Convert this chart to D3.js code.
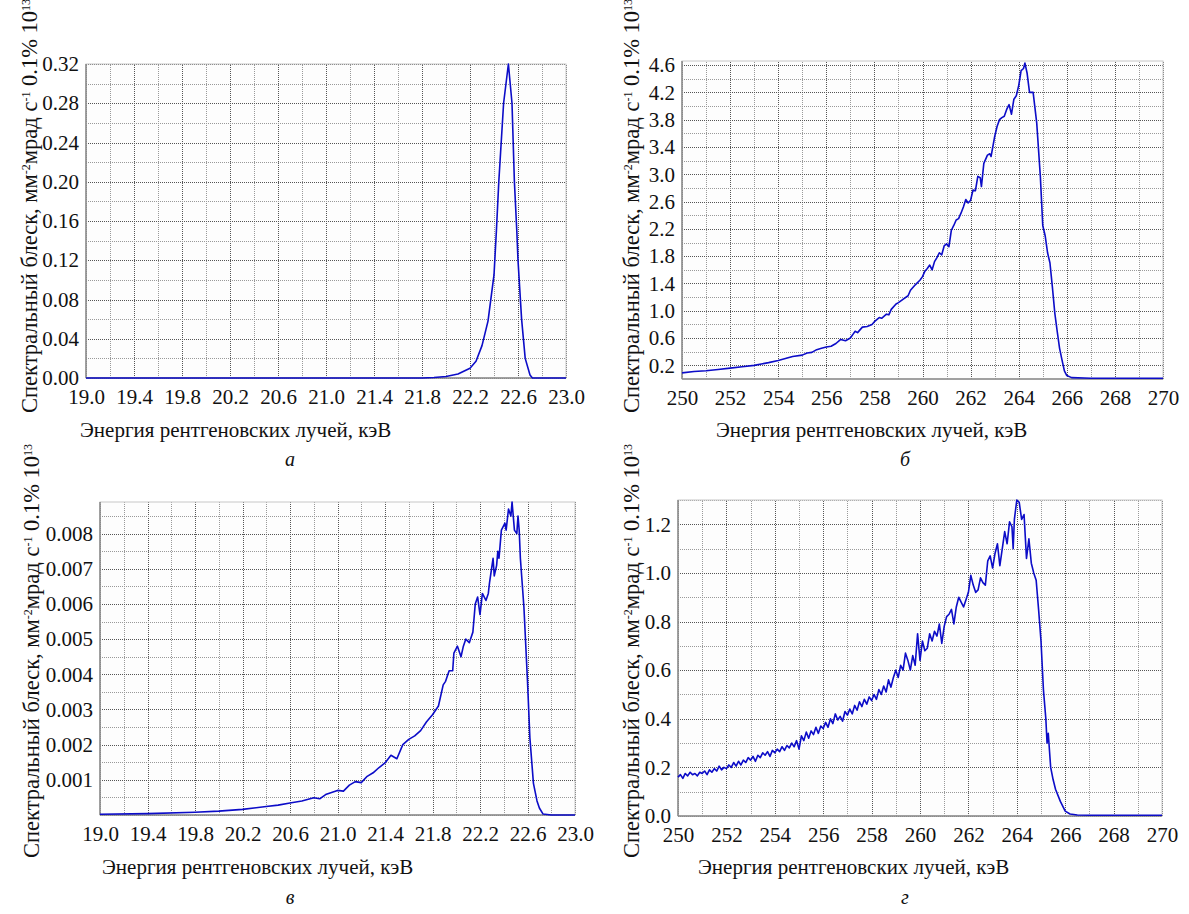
<!DOCTYPE html>
<html>
<head>
<meta charset="utf-8">
<script src="https://cdn.jsdelivr.net/npm/d3@7"></script>
<style>
  body { margin: 0; background: #fff; }
  svg text { font-family: "Liberation Serif", "Times New Roman", "DejaVu Serif", serif; fill: #111; }
  .grid line { shape-rendering: crispEdges; }
</style>
</head>
<body>
<svg width="1189" height="914"></svg>
<script>
// panel а : 22.5 keV peak, smooth
const energyA = [19.0, 21.8, 21.9, 22.0, 22.1, 22.2, 22.25, 22.3, 22.35, 22.4, 22.42, 22.44, 22.48, 22.52,
  22.55, 22.57, 22.59, 22.6, 22.63, 22.66, 22.7, 22.72, 23.0]
const brightA = [0, 0, 0.0005, 0.0015, 0.004, 0.01, 0.017, 0.033, 0.058, 0.105, 0.15, 0.20, 0.28, 0.32,
  0.28, 0.20, 0.15, 0.12, 0.06, 0.02, 0.003, 0, 0]

// panel б : 264 keV
const energyB = [250.0, 250.5, 251.0, 251.5, 252.0, 252.5, 253.0, 253.3, 253.6, 254.0, 254.3, 254.6, 255.0,
  255.2, 255.4, 255.6, 255.8, 256.0, 256.2, 256.4, 256.6, 256.8, 257.0, 257.1, 257.2, 257.3, 257.5, 257.7,
  257.9, 258.0, 258.2, 258.3, 258.5, 258.6, 258.7, 258.9, 259.0, 259.2, 259.4, 259.5, 259.7, 259.9, 260.0,
  260.1, 260.2, 260.3, 260.4, 260.5, 260.6, 260.7, 260.8, 260.9, 261.0, 261.1, 261.2, 261.3, 261.4, 261.5,
  261.6, 261.7, 261.8, 261.9, 262.0, 262.1, 262.2, 262.3, 262.4, 262.45, 262.55, 262.7, 262.8, 262.85, 263.0,
  263.1, 263.2, 263.3, 263.4, 263.5, 263.6, 263.7, 263.8, 263.9, 264.0, 264.1, 264.2, 264.26, 264.35, 264.45,
  264.6, 264.75, 264.9, 265.0, 265.1, 265.2, 265.3, 265.4, 265.5, 265.6, 265.7, 265.8, 265.9, 266.0, 266.2,
  267.0, 270.0]
const brightB = [0.09, 0.11, 0.12, 0.14, 0.16, 0.18, 0.20, 0.22, 0.24, 0.27, 0.30, 0.33, 0.35,
  0.38, 0.39, 0.43, 0.45, 0.47, 0.48, 0.52, 0.58, 0.56, 0.60, 0.65, 0.70, 0.68, 0.76, 0.77,
  0.80, 0.84, 0.90, 0.89, 0.95, 0.94, 1.02, 1.10, 1.12, 1.17, 1.22, 1.30, 1.38, 1.45, 1.50,
  1.58, 1.62, 1.67, 1.60, 1.72, 1.78, 1.85, 1.82, 1.95, 1.98, 1.94, 2.18, 2.25, 2.33, 2.35,
  2.43, 2.52, 2.63, 2.58, 2.62, 2.77, 2.76, 2.97, 2.95, 2.82, 3.16, 3.28, 3.30, 3.26, 3.55,
  3.70, 3.80, 3.83, 3.85, 3.95, 4.02, 3.88, 4.10, 4.15, 4.30, 4.52, 4.55, 4.63, 4.48, 4.20,
  4.20, 3.75, 2.97, 2.25, 2.10, 1.85, 1.70, 1.35, 0.97, 0.70, 0.45, 0.28, 0.12, 0.05, 0.02,
  0.01, 0.01]

// panel в : 22.5 keV, wider
const energyC = [19.0, 19.4, 19.8, 20.0, 20.2, 20.4, 20.5, 20.6, 20.7, 20.8, 20.85, 20.9, 21.0, 21.05, 21.1,
  21.15, 21.2, 21.25, 21.3, 21.35, 21.4, 21.45, 21.5, 21.55, 21.6, 21.65, 21.7, 21.75, 21.8, 21.85, 21.89,
  21.91, 21.94, 21.97, 21.98, 22.01, 22.04, 22.06, 22.08, 22.11, 22.14, 22.16, 22.18, 22.2, 22.22, 22.25,
  22.27, 22.28, 22.31, 22.32, 22.34, 22.35, 22.36, 22.38, 22.41, 22.42, 22.44, 22.46, 22.47, 22.49, 22.51,
  22.52, 22.53, 22.54, 22.57, 22.6, 22.62, 22.65, 22.68, 22.7, 22.73, 22.8, 23.0]
const brightC = [0.00002, 0.00004, 0.00008, 0.00011, 0.00016, 0.00024, 0.00028, 0.00034, 0.0004, 0.00049,
  0.00046, 0.00058, 0.0007, 0.00068, 0.00085, 0.00095, 0.00092, 0.0011, 0.0012, 0.00135, 0.00148, 0.0017,
  0.0016, 0.002, 0.00215, 0.00225, 0.0024, 0.00265, 0.00285, 0.0031, 0.0037, 0.0038, 0.0041, 0.0041, 0.0046,
  0.0048, 0.0045, 0.0048, 0.005, 0.0049, 0.0052, 0.006, 0.0062, 0.0057, 0.0063, 0.0061, 0.0063, 0.0066,
  0.0073, 0.0068, 0.0071, 0.0075, 0.0073, 0.0081, 0.0083, 0.0081, 0.0087, 0.0085, 0.0089, 0.0081, 0.008,
  0.0085, 0.0081, 0.0073, 0.0059, 0.0038, 0.0022, 0.0009, 0.0004, 0.0002, 0.00003, 0, 0]

// panel г : 264 keV, noisy
const energyD = [250.0, 250.1, 250.2, 250.3, 250.4, 250.5, 250.6, 250.7, 250.8, 250.9,
  251.0, 251.1, 251.2, 251.3, 251.4, 251.5, 251.6, 251.7, 251.8, 251.9,
  252.0, 252.1, 252.2, 252.3, 252.4, 252.5, 252.6, 252.7, 252.8, 252.9,
  253.0, 253.1, 253.2, 253.3, 253.4, 253.5, 253.6, 253.7, 253.8, 253.9,
  254.0, 254.1, 254.2, 254.3, 254.4, 254.5, 254.6, 254.7, 254.8, 254.9,
  255.0, 255.1, 255.2, 255.3, 255.4, 255.5, 255.6, 255.7, 255.8, 255.9,
  256.0, 256.1, 256.2, 256.3, 256.4, 256.5, 256.6, 256.7, 256.8, 256.9,
  257.0, 257.1, 257.2, 257.3, 257.4, 257.5, 257.6, 257.7, 257.8, 257.9,
  258.0, 258.1, 258.2, 258.3, 258.4, 258.5, 258.6, 258.7, 258.8, 258.9,
  259.0, 259.1, 259.2, 259.3, 259.4, 259.5, 259.6, 259.7, 259.8, 259.9,
  260.0, 260.1, 260.2, 260.3, 260.4, 260.5, 260.6, 260.7, 260.8, 260.9,
  261.0, 261.1, 261.2, 261.3, 261.4, 261.5, 261.6, 261.7, 261.8, 261.9,
  262.0, 262.1, 262.2, 262.3, 262.4, 262.5, 262.6, 262.7, 262.8, 262.9,
  263.0, 263.1, 263.2, 263.3, 263.4, 263.5, 263.6, 263.7, 263.8, 263.85, 263.9,
  264.0, 264.1, 264.2, 264.3, 264.4, 264.5, 264.6, 264.7, 264.8, 264.9,
  265.0, 265.05, 265.1, 265.2, 265.25, 265.3, 265.4, 265.5, 265.6, 265.8, 266.0, 266.2, 266.5, 267.0, 270.0]
const brightD = [0.16, 0.17, 0.155, 0.175, 0.165, 0.18, 0.17, 0.175, 0.165, 0.18,
  0.175, 0.185, 0.17, 0.19, 0.18, 0.195, 0.185, 0.205, 0.19, 0.2,
  0.195, 0.21, 0.2, 0.22, 0.205, 0.225, 0.21, 0.23, 0.22, 0.24,
  0.23, 0.245, 0.225, 0.25, 0.24, 0.26, 0.25, 0.265, 0.245, 0.27,
  0.26, 0.275, 0.265, 0.285, 0.27, 0.29, 0.28, 0.3, 0.285, 0.31,
  0.275, 0.33, 0.31, 0.345, 0.32, 0.35, 0.335, 0.365, 0.34, 0.37,
  0.36, 0.385, 0.365, 0.4, 0.38, 0.42, 0.395, 0.41, 0.39, 0.43,
  0.415, 0.44, 0.42, 0.455, 0.435, 0.47, 0.45, 0.48, 0.46, 0.49,
  0.475, 0.5, 0.48, 0.52, 0.5, 0.535, 0.51, 0.56, 0.53, 0.57,
  0.6, 0.57, 0.62, 0.6, 0.67, 0.64, 0.6, 0.66, 0.62, 0.75,
  0.64, 0.72, 0.68, 0.69, 0.75, 0.72, 0.76, 0.74, 0.79, 0.71,
  0.78, 0.82, 0.83, 0.85, 0.79, 0.86, 0.9, 0.88, 0.86, 0.89,
  0.92, 0.99, 0.95, 0.92, 0.93, 0.98, 0.96, 0.95, 1.05, 1.07,
  1.02, 1.08, 1.12, 1.03, 1.1, 1.17, 1.12, 1.21, 1.19, 1.1, 1.22,
  1.3, 1.29, 1.22, 1.24, 1.06, 1.14, 1.04, 1.0, 0.97, 0.85,
  0.72, 0.62, 0.52, 0.4, 0.3, 0.34, 0.2, 0.15, 0.11, 0.06, 0.02, 0.008, 0.004, 0.003, 0.003]

// ticks
const xTicksKeV1 = [19.0, 19.4, 19.8, 20.2, 20.6, 21.0, 21.4, 21.8, 22.2, 22.6, 23.0]
const xTicksKeV2 = [250, 252, 254, 256, 258, 260, 262, 264, 266, 268, 270]
const yTicksA = [0, 0.04, 0.08, 0.12, 0.16, 0.20, 0.24, 0.28, 0.32]
const yTicksB = [0.2, 0.6, 1.0, 1.4, 1.8, 2.2, 2.6, 3.0, 3.4, 3.8, 4.2, 4.6]
const yTicksC = [0.001, 0.002, 0.003, 0.004, 0.005, 0.006, 0.007, 0.008]
const yTicksD = [0, 0.2, 0.4, 0.6, 0.8, 1.0, 1.2]
const panelLetters = ["а", "б", "в", "г"]

const xTitle = "Энергия рентгеновских лучей, кэВ"
const serif = "'Liberation Serif', 'Times New Roman', 'DejaVu Serif', serif"

var svg = d3.select("svg");

function drawPanel(p) {
  var x = d3.scaleLinear().domain(p.xDomain).range([p.left, p.right]);
  var y = d3.scaleLinear().domain(p.yDomain).range([p.bottom, p.top]);
  var g = svg.append("g");

  g.append("rect")
    .attr("x", p.left).attr("y", p.top)
    .attr("width", p.right - p.left).attr("height", p.bottom - p.top)
    .attr("fill", "#fdfdfd");

  // minor + major grid lines
  var gridX = d3.range(p.xDomain[0], p.xDomain[1] + p.xStep / 2, p.xStep);
  var gridY = d3.range(p.yGridStart, p.yDomain[1] + 1e-9, p.yStep);

  g.append("g").attr("class", "grid")
    .attr("transform", "translate(0," + p.bottom + ")")
    .call(d3.axisBottom(x).tickValues(gridX).tickSize(-(p.bottom - p.top)).tickFormat(""))
    .call(s => s.select(".domain").remove())
    .selectAll("line")
    .attr("stroke", (d, i) => i % 2 == 0 ? "#555" : "#999")
    .attr("stroke-dasharray", "1,1");

  g.append("g").attr("class", "grid")
    .attr("transform", "translate(" + p.left + ",0)")
    .call(d3.axisLeft(y).tickValues(gridY).tickSize(-(p.right - p.left)).tickFormat(""))
    .call(s => s.select(".domain").remove())
    .selectAll("line")
    .attr("stroke", (d, i) => i % 2 == p.yMajorParity ? "#555" : "#999")
    .attr("stroke-dasharray", "1,1");

  // frame
  g.append("rect")
    .attr("x", p.left).attr("y", p.top)
    .attr("width", p.right - p.left).attr("height", p.bottom - p.top)
    .attr("fill", "none").attr("stroke", "#c8c8c8");
  g.append("line")
    .attr("x1", p.left).attr("x2", p.left).attr("y1", p.top).attr("y2", p.bottom)
    .attr("stroke", "#8a8a8a").attr("stroke-width", 1.5);
  g.append("line")
    .attr("x1", p.left).attr("x2", p.right).attr("y1", p.bottom).attr("y2", p.bottom)
    .attr("stroke", "#8a8a8a").attr("stroke-width", 1.5);

  // tick labels
  var ax = g.append("g")
    .attr("transform", "translate(0," + (p.bottom + 8) + ")")
    .call(d3.axisBottom(x).tickValues(p.xTicks).tickSize(0).tickFormat(d3.format(p.xFormat)));
  ax.select(".domain").remove();
  ax.attr("font-family", serif).attr("font-size", 21);
  ax.selectAll("text").style("font-family", serif).attr("fill", "#111");

  var ay = g.append("g")
    .attr("transform", "translate(" + (p.left - 4) + ",0)")
    .call(d3.axisLeft(y).tickValues(p.yTicks).tickSize(0).tickFormat(d3.format(p.yFormat)));
  ay.select(".domain").remove();
  ay.attr("font-family", serif).attr("font-size", 21);
  ay.selectAll("text").style("font-family", serif).attr("fill", "#111");

  // curve
  var pts = p.xs.map((d, i) => [d, p.ys[i]]);
  g.append("path")
    .datum(pts)
    .attr("fill", "none")
    .attr("stroke", "#0c0cc8")
    .attr("stroke-width", 1.6)
    .attr("stroke-linejoin", "round")
    .attr("d", d3.line().x(d => x(d[0])).y(d => y(d[1])));

  // y title (rotated)
  var t = svg.append("text")
    .attr("transform", "translate(" + p.titleX + "," + p.titleY + ") rotate(-90)")
    .style("font-family", serif)
    .attr("font-size", 22.5);
  t.append("tspan").text("Спектральный блеск, мм");
  t.append("tspan").attr("baseline-shift", "super").attr("font-size", 12).text("-2");
  t.append("tspan").text("мрад с");
  t.append("tspan").attr("baseline-shift", "super").attr("font-size", 12).text("-1");
  t.append("tspan").text(" 0.1% 10");
  t.append("tspan").attr("baseline-shift", "super").attr("font-size", 12).text("13");

  svg.append("text")
    .attr("x", p.xTitleX).attr("y", p.xTitleY)
    .style("font-family", serif)
    .attr("font-size", 21)
    .text(xTitle);

  svg.append("text")
    .attr("x", p.letterX).attr("y", p.letterY)
    .style("font-family", serif)
    .attr("font-size", 20).attr("font-style", "italic")
    .attr("text-anchor", "middle")
    .text(p.letter);
}

drawPanel({ left: 86, right: 566, top: 64, bottom: 378, xDomain: [19, 23], yDomain: [0, 0.32],
  xStep: 0.2, yStep: 0.02, yGridStart: 0, yMajorParity: 0, xTicks: xTicksKeV1, yTicks: yTicksA,
  xFormat: ".1f", yFormat: ".2f", xs: energyA, ys: brightA,
  titleX: 37, titleY: 413, xTitleX: 80, xTitleY: 437, letterX: 290, letterY: 466, letter: panelLetters[0] });

drawPanel({ left: 682, right: 1163, top: 61, bottom: 379, xDomain: [250, 270], yDomain: [0, 4.66],
  xStep: 1, yStep: 0.2, yGridStart: 0.2, yMajorParity: 0, xTicks: xTicksKeV2, yTicks: yTicksB,
  xFormat: "d", yFormat: ".1f", xs: energyB, ys: brightB,
  titleX: 639, titleY: 413, xTitleX: 716, xTitleY: 437, letterX: 905, letterY: 466, letter: panelLetters[1] });

drawPanel({ left: 100, right: 575, top: 502, bottom: 815, xDomain: [19, 23], yDomain: [0, 0.0089],
  xStep: 0.2, yStep: 0.0005, yGridStart: 0, yMajorParity: 0, xTicks: xTicksKeV1, yTicks: yTicksC,
  xFormat: ".1f", yFormat: ".3f", xs: energyC, ys: brightC,
  titleX: 39, titleY: 858, xTitleX: 102, xTitleY: 874, letterX: 290, letterY: 904, letter: panelLetters[2] });

drawPanel({ left: 678, right: 1162, top: 500, bottom: 816, xDomain: [250, 270], yDomain: [0, 1.3],
  xStep: 1, yStep: 0.1, yGridStart: 0, yMajorParity: 0, xTicks: xTicksKeV2, yTicks: yTicksD,
  xFormat: "d", yFormat: ".1f", xs: energyD, ys: brightD,
  titleX: 639, titleY: 858, xTitleX: 698, xTitleY: 874, letterX: 905, letterY: 904, letter: panelLetters[3] });
</script>
</body>
</html>
